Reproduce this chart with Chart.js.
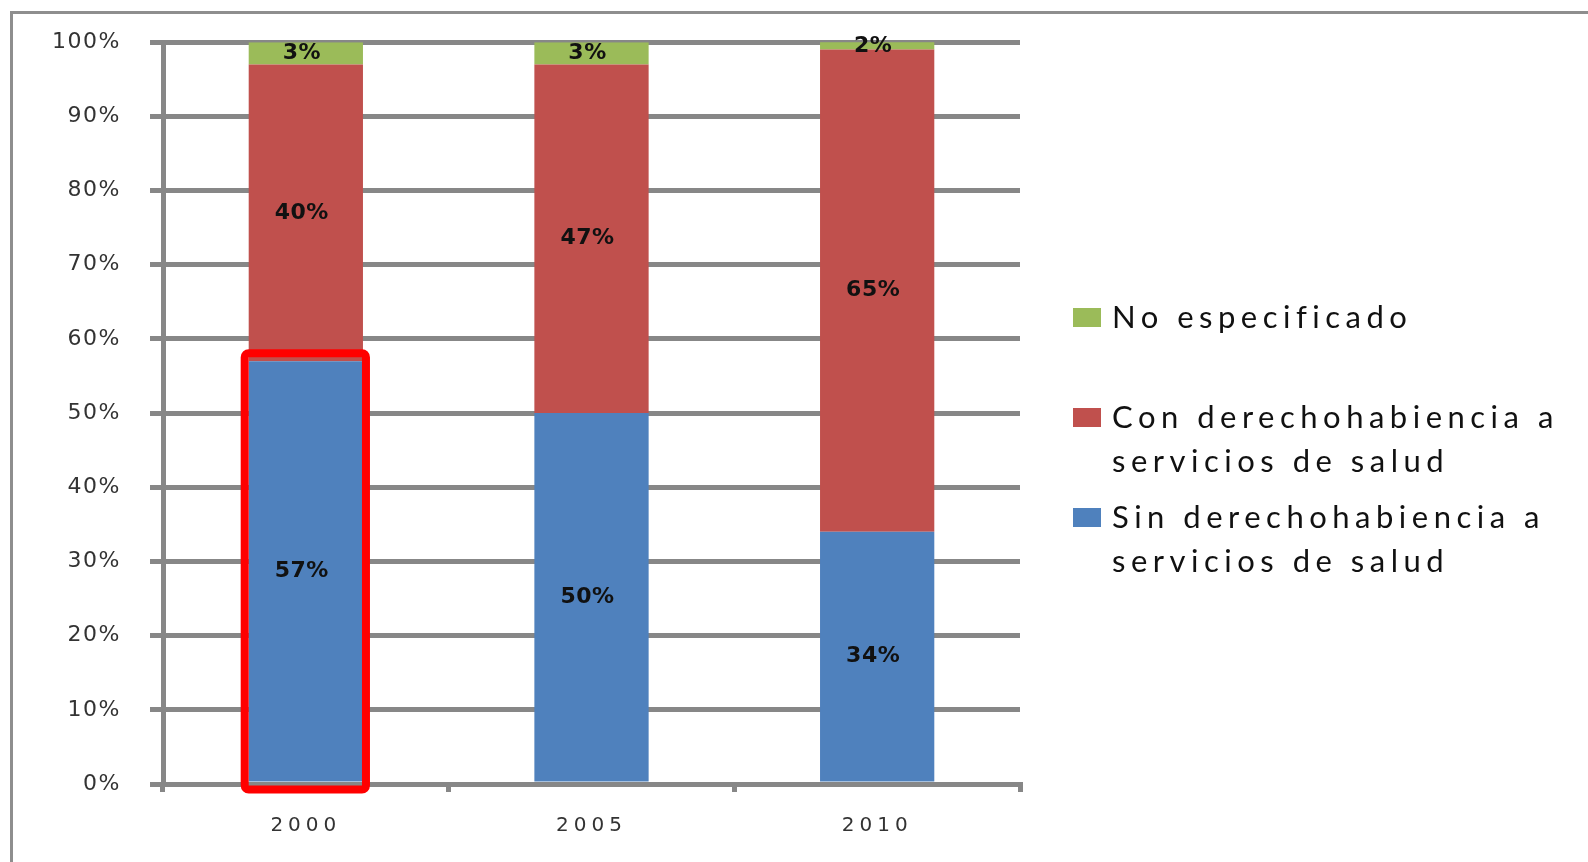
<!DOCTYPE html>
<html lang="es">
<head>
<meta charset="utf-8">
<title>Derechohabiencia a servicios de salud</title>
<script src="https://cdn.jsdelivr.net/npm/chart.js"></script>
<style>
  html, body { margin: 0; padding: 0; background: #fff; }
  #wrap { position: relative; width: 1588px; height: 862px; overflow: hidden; background: #fff; }
  #frame { position: absolute; left: 10px; top: 11px; width: 1600px; height: 900px;
           border-top: 3px solid #8e8e8e; border-left: 3px solid #8e8e8e; }
  #chart { position: absolute; left: 0; top: 0; }
  #legend { position: absolute; left: 1073px; top: 294px; font-family: Lato, "Open Sans", sans-serif;
            font-size: 31px; letter-spacing: 5.5px; line-height: 44px; color: #111; }
  #legend .item { position: relative; height: 100px; }
  #legend .swatch { position: absolute; left: 0; top: 14px; width: 28px; height: 19px; }
  #legend .text { position: absolute; left: 39px; top: 0; width: 476px; }
</style>
</head>
<body>
<div id="wrap">
  <div id="frame"></div>
  <canvas id="chart" width="1588" height="862"></canvas>
  <div id="legend"></div>
</div>
<script>
const years = ['2000', '2005', '2010'];
const sinDerecho = [57, 50, 34];
const conDerecho = [40, 47, 65];
const noEspecificado = [3, 3, 2];

const labelSin = 'Sin derechohabiencia a servicios de salud';
const labelCon = 'Con derechohabiencia a servicios de salud';
const labelNo = 'No especificado';

const gridGray = '#878787';
const highlightIndex = 0;

// spaced-out tick labels, set per axis
const tickSpacing = { x: '5px', y: '1.5px' };

const spacedTicks = {
    id: 'spacedTicks',
    beforeDraw(chart) {
        Object.keys(tickSpacing).forEach(id => {
            const scale = chart.scales[id];
            if (!scale || scale._spaced) return;
            const drawLabels = scale.drawLabels;
            scale.drawLabels = function (area) {
                this.ctx.save();
                this.ctx.letterSpacing = tickSpacing[id];
                drawLabels.call(this, area);
                this.ctx.restore();
            };
            scale._spaced = true;
        });
    }
};

// percentage printed in the middle of each visible segment
const segmentLabels = {
    id: 'segmentLabels',
    afterDatasetsDraw(chart) {
        const ctx = chart.ctx;
        const area = chart.chartArea;
        ctx.save();
        ctx.font = 'bold 22px "DejaVu Sans"';
        ctx.letterSpacing = '0.5px';
        ctx.fillStyle = '#111';
        ctx.textAlign = 'center';
        ctx.textBaseline = 'middle';
        chart.data.datasets.forEach((ds, i) => {
            chart.getDatasetMeta(i).data.forEach((bar, j) => {
                const top = Math.max(Math.min(bar.y, bar.base), area.top);
                const bottom = Math.min(Math.max(bar.y, bar.base), area.bottom);
                ctx.fillText(ds.data[j] + '%', bar.x - 4, (top + bottom) / 2);
            });
        });
        ctx.restore();
    }
};

// red box around one bar
const highlightBar = {
    id: 'highlightBar',
    afterDatasetsDraw(chart) {
        const bar = chart.getDatasetMeta(0).data[highlightIndex];
        if (!bar) return;
        const ctx = chart.ctx;
        const left = bar.x - bar.width / 2 - 4;
        const right = bar.x + bar.width / 2 + 3;
        const top = bar.y - 8;
        const bottom = bar.base + 8;
        ctx.save();
        ctx.strokeStyle = '#ff0000';
        ctx.lineWidth = 8;
        ctx.beginPath();
        ctx.roundRect(left, top, right - left, bottom - top, 4);
        ctx.stroke();
        ctx.restore();
    }
};

const htmlLegend = {
    id: 'htmlLegend',
    afterUpdate(chart) {
        const box = document.getElementById('legend');
        box.innerHTML = '';
        chart.data.datasets.slice().reverse().forEach(ds => {
            const item = document.createElement('div');
            item.className = 'item';
            const swatch = document.createElement('span');
            swatch.className = 'swatch';
            swatch.style.background = ds.backgroundColor;
            const text = document.createElement('span');
            text.className = 'text';
            text.textContent = ds.label;
            item.append(swatch, text);
            box.appendChild(item);
        });
    }
};

const ctx = document.getElementById('chart').getContext('2d');
new Chart(ctx, {
    type: 'bar',
    data: {
        labels: years,
        datasets: [
            { label: labelSin, data: sinDerecho, backgroundColor: '#4F81BD', clip: 0 },
            { label: labelCon, data: conDerecho, backgroundColor: '#C0504D', clip: 0 },
            { label: labelNo, data: noEspecificado, backgroundColor: '#9BBB59', clip: 0 }
        ]
    },
    options: {
        responsive: false,
        animation: false,
        layout: { padding: { top: 40, right: 568, bottom: 0, left: 0 } },
        datasets: { bar: { barPercentage: 0.4, categoryPercentage: 1 } },
        plugins: {
            legend: { display: false },
            tooltip: { enabled: false }
        },
        scales: {
            x: {
                stacked: true,
                afterFit(scale) { scale.height = 78; },
                grid: { drawOnChartArea: false, drawTicks: true, tickLength: 8, color: gridGray, lineWidth: 5 },
                border: { display: true, color: gridGray, width: 5 },
                ticks: { color: '#333', padding: 22, font: { family: '"DejaVu Sans"', size: 20 } }
            },
            y: {
                stacked: true,
                min: 0,
                max: 100,
                afterFit(scale) { scale.width = 163; },
                grid: { color: gridGray, lineWidth: 5, tickLength: 13 },
                border: { display: true, color: gridGray, width: 5 },
                ticks: {
                    stepSize: 10,
                    color: '#333',
                    padding: 29,
                    font: { family: '"DejaVu Sans"', size: 22 },
                    callback: v => v + '%'
                }
            }
        }
    },
    plugins: [spacedTicks, segmentLabels, highlightBar, htmlLegend]
});
</script>
</body>
</html>
